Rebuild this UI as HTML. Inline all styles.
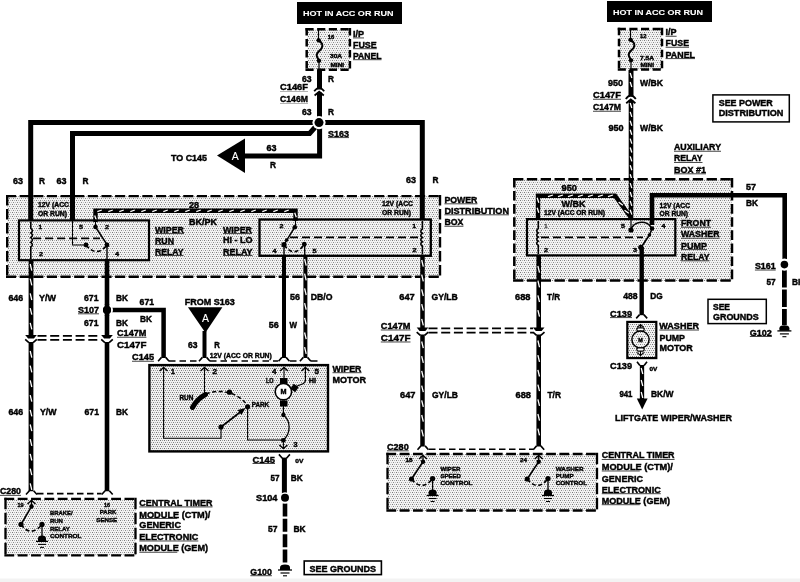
<!DOCTYPE html>
<html><head><meta charset="utf-8"><style>
html,body{margin:0;padding:0;background:#fff;}
svg{display:block;will-change:transform;}
text{font-family:"Liberation Sans", sans-serif;}
</style></head><body>
<svg width="800" height="582" viewBox="0 0 800 582">
<defs>
<pattern id="stip" width="4" height="4" patternUnits="userSpaceOnUse">
<rect width="4" height="4" fill="#f1f1f1"/>
<rect x="0" y="0" width="1" height="1" fill="#707070"/>
<rect x="2" y="0" width="1" height="1" fill="#9c9c9c"/>
<rect x="1" y="2" width="1" height="1" fill="#808080"/>
<rect x="3" y="2" width="1" height="1" fill="#a8a8a8"/>
</pattern>
<pattern id="stipL" width="4" height="4" patternUnits="userSpaceOnUse">
<rect width="4" height="4" fill="#f3f3f3"/>
<rect x="0" y="0" width="1" height="1" fill="#7a7a7a"/>
<rect x="2" y="0" width="1" height="1" fill="#b0b0b0"/>
<rect x="1" y="2" width="1" height="1" fill="#8c8c8c"/>
<rect x="3" y="2" width="1" height="1" fill="#c0c0c0"/>
</pattern>
</defs>
<rect width="800" height="582" fill="#fff"/>
<rect x="7" y="196" width="433" height="81" fill="url(#stipL)"/>
<rect x="307" y="29" width="43" height="41" fill="url(#stipL)"/>
<rect x="619" y="29" width="43" height="41" fill="url(#stipL)"/>
<rect x="514" y="179" width="218" height="102" fill="url(#stipL)"/>
<rect x="150" y="366" width="177" height="85" fill="url(#stip)"/>
<rect x="5" y="499" width="131" height="57" fill="url(#stipL)"/>
<rect x="387" y="454" width="210" height="57" fill="url(#stipL)"/>
<rect x="627" y="322" width="30" height="37" fill="url(#stip)"/>
<rect x="297" y="2" width="105" height="22" fill="#000"/>
<text x="303" y="16.27" font-size="7.6" font-weight="bold" fill="#fff" stroke="#fff" stroke-width="0.1" text-anchor="start" textLength="90.5" lengthAdjust="spacingAndGlyphs">HOT IN ACC OR RUN</text>
<line x1="306.7" y1="29.2" x2="349.9" y2="29.2" stroke="#000" stroke-width="2.5" stroke-linecap="square" stroke-dasharray="5.675 6.000"/>
<line x1="349.9" y1="29.2" x2="349.9" y2="69.8" stroke="#000" stroke-width="2.5" stroke-linecap="square" stroke-dasharray="5.025 6.000"/>
<line x1="306.7" y1="69.8" x2="349.9" y2="69.8" stroke="#000" stroke-width="2.5" stroke-linecap="square" stroke-dasharray="5.675 6.000"/>
<line x1="306.7" y1="29.2" x2="306.7" y2="69.8" stroke="#000" stroke-width="2.5" stroke-linecap="square" stroke-dasharray="5.025 6.000"/>
<path d="M318.5,29 L318.5,39.5" fill="none" stroke="#000" stroke-width="1.2" stroke-linecap="butt" stroke-linejoin="miter"/>
<ellipse cx="318.7" cy="40.3" rx="2.3" ry="2.1" fill="#000"/>
<path d="M318.7,41 C322,42 323.5,45 321.5,48.5 C319.5,51 316,53 316.8,56 C317.3,58.5 319,59.5 319,60.5" fill="none" stroke="#000" stroke-width="2.0" stroke-linecap="butt" stroke-linejoin="miter"/>
<ellipse cx="319" cy="60.8" rx="2.3" ry="2.1" fill="#000"/>
<path d="M319,61 L319,70" fill="none" stroke="#000" stroke-width="1.2" stroke-linecap="butt" stroke-linejoin="miter"/>
<text x="327.7" y="38.50" font-size="5.5" font-weight="bold" fill="#000" stroke="#000" stroke-width="0.38" text-anchor="start" textLength="6.5" lengthAdjust="spacingAndGlyphs">16</text>
<text x="330" y="57.70" font-size="5.5" font-weight="bold" fill="#000" stroke="#000" stroke-width="0.38" text-anchor="start" textLength="12" lengthAdjust="spacingAndGlyphs">30A</text>
<text x="330.4" y="66.60" font-size="5.5" font-weight="bold" fill="#000" stroke="#000" stroke-width="0.38" text-anchor="start" textLength="13.8" lengthAdjust="spacingAndGlyphs">MINI</text>
<text x="353" y="36.98" font-size="9" font-weight="bold" fill="#000" stroke="#000" stroke-width="0.42" text-anchor="start" textLength="11" lengthAdjust="spacingAndGlyphs">I/P</text>
<rect x="353" y="37.48" width="11" height="0.9" fill="#333"/>
<text x="353" y="47.78" font-size="9" font-weight="bold" fill="#000" stroke="#000" stroke-width="0.42" text-anchor="start" textLength="23.7" lengthAdjust="spacingAndGlyphs">FUSE</text>
<rect x="353" y="48.28" width="23.7" height="0.9" fill="#333"/>
<text x="353" y="58.78" font-size="9" font-weight="bold" fill="#000" stroke="#000" stroke-width="0.42" text-anchor="start" textLength="28.5" lengthAdjust="spacingAndGlyphs">PANEL</text>
<rect x="353" y="59.28" width="28.5" height="0.9" fill="#333"/>
<polyline points="319.5,70 319.5,89.5" fill="none" stroke="#000" stroke-width="5" stroke-linejoin="miter" stroke-linecap="butt"/>
<polyline points="319.5,92.5 319.5,120" fill="none" stroke="#000" stroke-width="5" stroke-linejoin="miter" stroke-linecap="butt"/>
<path d="M314.2,91.3 Q319.2,84.3 324.2,91.3" fill="none" stroke="#000" stroke-width="1.8" stroke-linecap="butt" stroke-linejoin="miter"/>
<path d="M314.59999999999997,95.5 L319.2,91.7 L323.8,95.5" fill="none" stroke="#000" stroke-width="1.8" stroke-linecap="butt" stroke-linejoin="miter"/>
<text x="302" y="81.78" font-size="9" font-weight="bold" fill="#000" stroke="#000" stroke-width="0.42" text-anchor="start" textLength="9.6" lengthAdjust="spacingAndGlyphs">63</text>
<text x="328" y="81.78" font-size="9" font-weight="bold" fill="#000" stroke="#000" stroke-width="0.42" text-anchor="start" textLength="6" lengthAdjust="spacingAndGlyphs">R</text>
<text x="280" y="90.48" font-size="9" font-weight="bold" fill="#000" stroke="#000" stroke-width="0.42" text-anchor="start" textLength="28" lengthAdjust="spacingAndGlyphs">C146F</text>
<rect x="280" y="90.98" width="28" height="0.9" fill="#aaa"/>
<text x="280" y="102.48" font-size="9" font-weight="bold" fill="#000" stroke="#000" stroke-width="0.42" text-anchor="start" textLength="28" lengthAdjust="spacingAndGlyphs">C146M</text>
<rect x="280" y="102.98" width="28" height="0.9" fill="#aaa"/>
<text x="302" y="114.98" font-size="9" font-weight="bold" fill="#000" stroke="#000" stroke-width="0.42" text-anchor="start" textLength="9.6" lengthAdjust="spacingAndGlyphs">63</text>
<text x="328" y="114.98" font-size="9" font-weight="bold" fill="#000" stroke="#000" stroke-width="0.42" text-anchor="start" textLength="6" lengthAdjust="spacingAndGlyphs">R</text>
<polyline points="30.7,221 30.7,122.6 422.3,122.6 422.3,219.5" fill="none" stroke="#000" stroke-width="5" stroke-linejoin="miter" stroke-linecap="butt"/>
<polyline points="318,124 309.6,133.5 72.5,133.5 72.5,221" fill="none" stroke="#000" stroke-width="5" stroke-linejoin="miter" stroke-linecap="butt"/>
<polyline points="319.6,122.6 319.6,156 244,156" fill="none" stroke="#000" stroke-width="5" stroke-linejoin="miter" stroke-linecap="butt"/>
<circle cx="319" cy="122.6" r="6.6" fill="#fff"/>
<circle cx="319" cy="122.6" r="4.5" fill="#000"/>
<text x="328" y="136.68" font-size="9" font-weight="bold" fill="#000" stroke="#000" stroke-width="0.42" text-anchor="start" textLength="21" lengthAdjust="spacingAndGlyphs">S163</text>
<rect x="328" y="137.18" width="21" height="0.9" fill="#333"/>
<polygon points="217,155.6 245,138.4 245,173" fill="#000"/>
<text x="235.3" y="160.13" font-size="10.5" font-weight="normal" fill="#fff" stroke="#fff" stroke-width="0.1" text-anchor="middle" textLength="7" lengthAdjust="spacingAndGlyphs">A</text>
<text x="171" y="160.68" font-size="9" font-weight="bold" fill="#000" stroke="#000" stroke-width="0.42" text-anchor="start" textLength="36" lengthAdjust="spacingAndGlyphs">TO C145</text>
<text x="266.4" y="151.28" font-size="9" font-weight="bold" fill="#000" stroke="#000" stroke-width="0.42" text-anchor="start" textLength="10" lengthAdjust="spacingAndGlyphs">63</text>
<text x="270" y="168.28" font-size="9" font-weight="bold" fill="#000" stroke="#000" stroke-width="0.42" text-anchor="start" textLength="6" lengthAdjust="spacingAndGlyphs">R</text>
<text x="13" y="183.68" font-size="9" font-weight="bold" fill="#000" stroke="#000" stroke-width="0.42" text-anchor="start" textLength="10" lengthAdjust="spacingAndGlyphs">63</text>
<text x="39" y="183.68" font-size="9" font-weight="bold" fill="#000" stroke="#000" stroke-width="0.42" text-anchor="start" textLength="6" lengthAdjust="spacingAndGlyphs">R</text>
<text x="56.6" y="183.68" font-size="9" font-weight="bold" fill="#000" stroke="#000" stroke-width="0.42" text-anchor="start" textLength="10" lengthAdjust="spacingAndGlyphs">63</text>
<text x="82.6" y="183.68" font-size="9" font-weight="bold" fill="#000" stroke="#000" stroke-width="0.42" text-anchor="start" textLength="6" lengthAdjust="spacingAndGlyphs">R</text>
<text x="406" y="183.28" font-size="9" font-weight="bold" fill="#000" stroke="#000" stroke-width="0.42" text-anchor="start" textLength="10" lengthAdjust="spacingAndGlyphs">63</text>
<text x="432.6" y="183.28" font-size="9" font-weight="bold" fill="#000" stroke="#000" stroke-width="0.42" text-anchor="start" textLength="6" lengthAdjust="spacingAndGlyphs">R</text>
<line x1="7.2" y1="196.1" x2="440.0" y2="196.1" stroke="#000" stroke-width="2.4" stroke-linecap="square" stroke-dasharray="7.734 5.900"/>
<line x1="440.0" y1="196.1" x2="440.0" y2="276.8" stroke="#000" stroke-width="2.4" stroke-linecap="square" stroke-dasharray="8.133 5.900"/>
<line x1="7.2" y1="276.8" x2="440.0" y2="276.8" stroke="#000" stroke-width="2.4" stroke-linecap="square" stroke-dasharray="7.734 5.900"/>
<line x1="7.2" y1="196.1" x2="7.2" y2="276.8" stroke="#000" stroke-width="2.4" stroke-linecap="square" stroke-dasharray="8.133 5.900"/>
<text x="444.4" y="202.88" font-size="9" font-weight="bold" fill="#000" stroke="#000" stroke-width="0.42" text-anchor="start" textLength="33" lengthAdjust="spacingAndGlyphs">POWER</text>
<rect x="444.4" y="203.38" width="33" height="0.9" fill="#333"/>
<text x="444.4" y="213.88" font-size="9" font-weight="bold" fill="#000" stroke="#000" stroke-width="0.42" text-anchor="start" textLength="64.6" lengthAdjust="spacingAndGlyphs">DISTRIBUTION</text>
<rect x="444.4" y="214.38" width="64.6" height="0.9" fill="#333"/>
<text x="444.4" y="225.28" font-size="9" font-weight="bold" fill="#000" stroke="#000" stroke-width="0.42" text-anchor="start" textLength="19" lengthAdjust="spacingAndGlyphs">BOX</text>
<rect x="444.4" y="225.78" width="19" height="0.9" fill="#333"/>
<text x="38" y="206.88" font-size="6.8" font-weight="bold" fill="#000" stroke="#000" stroke-width="0.4" text-anchor="start" textLength="31" lengthAdjust="spacingAndGlyphs">12V (ACC</text>
<text x="38" y="216.08" font-size="6.8" font-weight="bold" fill="#000" stroke="#000" stroke-width="0.4" text-anchor="start" textLength="29" lengthAdjust="spacingAndGlyphs">OR RUN)</text>
<text x="382" y="206.08" font-size="6.8" font-weight="bold" fill="#000" stroke="#000" stroke-width="0.4" text-anchor="start" textLength="31" lengthAdjust="spacingAndGlyphs">12V (ACC</text>
<text x="382" y="215.48" font-size="6.8" font-weight="bold" fill="#000" stroke="#000" stroke-width="0.4" text-anchor="start" textLength="29" lengthAdjust="spacingAndGlyphs">OR RUN)</text>
<text x="189" y="207.68" font-size="9" font-weight="bold" fill="#000" stroke="#000" stroke-width="0.42" text-anchor="start" textLength="10" lengthAdjust="spacingAndGlyphs">28</text>
<text x="189" y="224.88" font-size="9" font-weight="bold" fill="#000" stroke="#000" stroke-width="0.42" text-anchor="start" textLength="28" lengthAdjust="spacingAndGlyphs">BK/PK</text>
<polyline points="95.5,222 95.5,210.8 295.5,210.8 295.5,221" fill="none" stroke="#000" stroke-width="4.4" stroke-linejoin="miter" stroke-linecap="butt"/>
<path d="M96.30,220.00 L94.70,215.50 M97.30,211.60 L101.80,210.00 M108.30,211.60 L112.80,210.00 M119.30,211.60 L123.80,210.00 M130.30,211.60 L134.80,210.00 M141.30,211.60 L145.80,210.00 M152.30,211.60 L156.80,210.00 M163.30,211.60 L167.80,210.00 M174.30,211.60 L178.80,210.00 M185.30,211.60 L189.80,210.00 M196.30,211.60 L200.80,210.00 M207.30,211.60 L211.80,210.00 M218.30,211.60 L222.80,210.00 M229.30,211.60 L233.80,210.00 M240.30,211.60 L244.80,210.00 M251.30,211.60 L255.80,210.00 M262.30,211.60 L266.80,210.00 M273.30,211.60 L277.80,210.00 M284.30,211.60 L288.80,210.00 M294.70,212.80 L296.30,217.30" stroke="#fff" stroke-width="1.3" fill="none"/>
<rect x="19" y="220.4" width="130" height="39.8" fill="none" stroke="#000" stroke-width="2.2"/>
<path d="M30.8,221.5 L30.8,228.3 Q34.0,230.63750000000002 30.8,232.97500000000002 Q34.0,235.31250000000003 30.8,237.65000000000003 Q34.0,239.98750000000004 30.8,242.32500000000005 Q34.0,244.66250000000005 30.8,247.00000000000006 L30.8,259" fill="none" stroke="#000" stroke-width="1.6" stroke-linecap="butt" stroke-linejoin="miter"/>
<path d="M33,238.4 L100,238.4" fill="none" stroke="#000" stroke-width="1.7" stroke-linecap="butt" stroke-linejoin="miter" stroke-dasharray="8 4"/>
<path d="M72.5,221 L72.5,245 L86,245" fill="none" stroke="#000" stroke-width="1.1" stroke-linecap="butt" stroke-linejoin="miter"/>
<path d="M95.5,221 L95.5,227" fill="none" stroke="#000" stroke-width="1.1" stroke-linecap="butt" stroke-linejoin="miter"/>
<circle cx="95.5" cy="227" r="2.3" fill="#000"/>
<path d="M95.5,227 L107,244.5" fill="none" stroke="#000" stroke-width="1.5" stroke-linecap="butt" stroke-linejoin="miter"/>
<circle cx="86" cy="245" r="2.4" fill="#000"/>
<circle cx="107" cy="245" r="2.4" fill="#000"/>
<path d="M86,245 Q96.5,258 107,245" fill="none" stroke="#000" stroke-width="1.7" stroke-linecap="butt" stroke-linejoin="miter" stroke-dasharray="4 2.6"/>
<text x="38.5" y="228.59" font-size="6" font-weight="bold" fill="#000" stroke="#000" stroke-width="0.38" text-anchor="start" textLength="3.5" lengthAdjust="spacingAndGlyphs">1</text>
<text x="79" y="228.59" font-size="6" font-weight="bold" fill="#000" stroke="#000" stroke-width="0.38" text-anchor="start" textLength="4" lengthAdjust="spacingAndGlyphs">5</text>
<text x="105" y="228.59" font-size="6" font-weight="bold" fill="#000" stroke="#000" stroke-width="0.38" text-anchor="start" textLength="4" lengthAdjust="spacingAndGlyphs">2</text>
<text x="39" y="256.19" font-size="6" font-weight="bold" fill="#000" stroke="#000" stroke-width="0.38" text-anchor="start" textLength="4" lengthAdjust="spacingAndGlyphs">2</text>
<text x="115" y="256.19" font-size="6" font-weight="bold" fill="#000" stroke="#000" stroke-width="0.38" text-anchor="start" textLength="4" lengthAdjust="spacingAndGlyphs">4</text>
<text x="155" y="232.68" font-size="9" font-weight="bold" fill="#000" stroke="#000" stroke-width="0.42" text-anchor="start" textLength="29" lengthAdjust="spacingAndGlyphs">WIPER</text>
<rect x="155" y="233.18" width="29" height="0.9" fill="#333"/>
<text x="155" y="243.68" font-size="9" font-weight="bold" fill="#000" stroke="#000" stroke-width="0.42" text-anchor="start" textLength="19" lengthAdjust="spacingAndGlyphs">RUN</text>
<rect x="155" y="244.18" width="19" height="0.9" fill="#333"/>
<text x="155" y="254.58" font-size="9" font-weight="bold" fill="#000" stroke="#000" stroke-width="0.42" text-anchor="start" textLength="28.5" lengthAdjust="spacingAndGlyphs">RELAY</text>
<rect x="155" y="255.08" width="28.5" height="0.9" fill="#333"/>
<rect x="259.5" y="219.5" width="171.3" height="36.3" fill="none" stroke="#000" stroke-width="2.3"/>
<path d="M422.4,221 L422.4,229 Q419.2,231.125 422.4,233.25 Q419.2,235.375 422.4,237.5 Q419.2,239.625 422.4,241.75 Q419.2,243.875 422.4,246.0 L422.4,254.5" fill="none" stroke="#000" stroke-width="1.6" stroke-linecap="butt" stroke-linejoin="miter"/>
<path d="M290,237.4 L418,237.4" fill="none" stroke="#000" stroke-width="1.7" stroke-linecap="butt" stroke-linejoin="miter" stroke-dasharray="8 4"/>
<path d="M295.5,221 L295.5,227" fill="none" stroke="#000" stroke-width="1.1" stroke-linecap="butt" stroke-linejoin="miter"/>
<circle cx="294.8" cy="227.2" r="2.3" fill="#000"/>
<path d="M294.8,227.2 L284,244.7" fill="none" stroke="#000" stroke-width="1.5" stroke-linecap="butt" stroke-linejoin="miter"/>
<circle cx="286.7" cy="240" r="1.8" fill="#000"/>
<circle cx="284" cy="244.7" r="2.6" fill="#000"/>
<circle cx="304.3" cy="244.2" r="2.4" fill="#000"/>
<path d="M284,244.7 Q294,259 304.3,244.2" fill="none" stroke="#000" stroke-width="1.7" stroke-linecap="butt" stroke-linejoin="miter" stroke-dasharray="4 2.6"/>
<text x="279.5" y="227.79" font-size="6" font-weight="bold" fill="#000" stroke="#000" stroke-width="0.38" text-anchor="start" textLength="4" lengthAdjust="spacingAndGlyphs">2</text>
<text x="272.5" y="252.79" font-size="6" font-weight="bold" fill="#000" stroke="#000" stroke-width="0.38" text-anchor="start" textLength="4" lengthAdjust="spacingAndGlyphs">4</text>
<text x="312.5" y="252.79" font-size="6" font-weight="bold" fill="#000" stroke="#000" stroke-width="0.38" text-anchor="start" textLength="4" lengthAdjust="spacingAndGlyphs">5</text>
<text x="412.5" y="227.79" font-size="6" font-weight="bold" fill="#000" stroke="#000" stroke-width="0.38" text-anchor="start" textLength="3.5" lengthAdjust="spacingAndGlyphs">1</text>
<text x="412.5" y="252.19" font-size="6" font-weight="bold" fill="#000" stroke="#000" stroke-width="0.38" text-anchor="start" textLength="4" lengthAdjust="spacingAndGlyphs">2</text>
<text x="223" y="232.68" font-size="9" font-weight="bold" fill="#000" stroke="#000" stroke-width="0.42" text-anchor="start" textLength="29" lengthAdjust="spacingAndGlyphs">WIPER</text>
<rect x="223" y="233.18" width="29" height="0.9" fill="#333"/>
<text x="223" y="243.48" font-size="9" font-weight="bold" fill="#000" stroke="#000" stroke-width="0.42" text-anchor="start" textLength="29.5" lengthAdjust="spacingAndGlyphs">HI - LO</text>
<text x="223" y="254.58" font-size="9" font-weight="bold" fill="#000" stroke="#000" stroke-width="0.42" text-anchor="start" textLength="29.5" lengthAdjust="spacingAndGlyphs">RELAY</text>
<rect x="223" y="255.08" width="29.5" height="0.9" fill="#333"/>
<polyline points="31,260 31,336.5" fill="none" stroke="#000" stroke-width="4.8" stroke-linejoin="miter" stroke-linecap="butt"/>
<path d="M30.20,264.00 L31.80,270.60 M30.20,278.70 L31.80,285.30 M30.20,293.40 L31.80,300.00 M30.20,308.10 L31.80,314.70 M30.20,322.80 L31.80,329.40" stroke="#fff" stroke-width="1.3" fill="none"/>
<polyline points="31,342 31,491.3" fill="none" stroke="#000" stroke-width="4.8" stroke-linejoin="miter" stroke-linecap="butt"/>
<path d="M30.20,351.00 L31.80,357.60 M30.20,365.70 L31.80,372.30 M30.20,380.40 L31.80,387.00 M30.20,395.10 L31.80,401.70 M30.20,409.80 L31.80,416.40 M30.20,424.50 L31.80,431.10 M30.20,439.20 L31.80,445.80 M30.20,453.90 L31.80,460.50 M30.20,468.60 L31.80,475.20 M30.20,483.30 L31.80,489.90" stroke="#fff" stroke-width="1.3" fill="none"/>
<polygon points="25.2,335.0 36.8,335.0 33.9,338.5 28.1,338.5" fill="#000"/>
<path d="M28.9,342.6 L25.2,339.4 M33.1,342.6 L36.8,339.4" fill="none" stroke="#000" stroke-width="1.7" stroke-linecap="butt" stroke-linejoin="miter"/>
<path d="M107,245 L107,259" fill="none" stroke="#000" stroke-width="1.4" stroke-linecap="butt" stroke-linejoin="miter"/>
<polyline points="107,259 107,336.5" fill="none" stroke="#000" stroke-width="4.6" stroke-linejoin="miter" stroke-linecap="butt"/>
<polyline points="107,342 107,491.3" fill="none" stroke="#000" stroke-width="4.6" stroke-linejoin="miter" stroke-linecap="butt"/>
<polygon points="101.2,335.0 112.8,335.0 109.9,338.5 104.1,338.5" fill="#000"/>
<path d="M104.9,342.6 L101.2,339.4 M109.1,342.6 L112.8,339.4" fill="none" stroke="#000" stroke-width="1.7" stroke-linecap="butt" stroke-linejoin="miter"/>
<path d="M37.5,335.9 L101,335.9" fill="none" stroke="#000" stroke-width="1.8" stroke-linecap="butt" stroke-linejoin="miter" stroke-dasharray="9 3.7"/>
<path d="M37.5,339.8 L101,339.8" fill="none" stroke="#000" stroke-width="1.8" stroke-linecap="butt" stroke-linejoin="miter" stroke-dasharray="9 3.7"/>
<polyline points="107,310 163.6,310 163.6,358" fill="none" stroke="#000" stroke-width="4.5" stroke-linejoin="miter" stroke-linecap="butt"/>
<circle cx="107" cy="310" r="6" fill="#fff"/>
<circle cx="107" cy="310" r="4" fill="#000"/>
<path d="M107,304 L107,316" fill="none" stroke="#000" stroke-width="4.6" stroke-linecap="butt" stroke-linejoin="miter"/>
<circle cx="107" cy="310" r="4" fill="#000"/>
<text x="8.4" y="300.68" font-size="9" font-weight="bold" fill="#000" stroke="#000" stroke-width="0.42" text-anchor="start" textLength="14.8" lengthAdjust="spacingAndGlyphs">646</text>
<text x="39" y="300.68" font-size="9" font-weight="bold" fill="#000" stroke="#000" stroke-width="0.42" text-anchor="start" textLength="17" lengthAdjust="spacingAndGlyphs">Y/W</text>
<text x="84" y="301.28" font-size="9" font-weight="bold" fill="#000" stroke="#000" stroke-width="0.42" text-anchor="start" textLength="14.5" lengthAdjust="spacingAndGlyphs">671</text>
<text x="116" y="301.28" font-size="9" font-weight="bold" fill="#000" stroke="#000" stroke-width="0.42" text-anchor="start" textLength="12" lengthAdjust="spacingAndGlyphs">BK</text>
<text x="78" y="312.88" font-size="9" font-weight="bold" fill="#000" stroke="#000" stroke-width="0.42" text-anchor="start" textLength="21" lengthAdjust="spacingAndGlyphs">S107</text>
<rect x="78" y="313.38" width="21" height="0.9" fill="#333"/>
<text x="84" y="325.68" font-size="9" font-weight="bold" fill="#000" stroke="#000" stroke-width="0.42" text-anchor="start" textLength="14.5" lengthAdjust="spacingAndGlyphs">671</text>
<text x="116" y="325.68" font-size="9" font-weight="bold" fill="#000" stroke="#000" stroke-width="0.42" text-anchor="start" textLength="12" lengthAdjust="spacingAndGlyphs">BK</text>
<text x="139.6" y="305.28" font-size="9" font-weight="bold" fill="#000" stroke="#000" stroke-width="0.42" text-anchor="start" textLength="14.5" lengthAdjust="spacingAndGlyphs">671</text>
<text x="140" y="322.28" font-size="9" font-weight="bold" fill="#000" stroke="#000" stroke-width="0.42" text-anchor="start" textLength="12" lengthAdjust="spacingAndGlyphs">BK</text>
<text x="117" y="336.28" font-size="9" font-weight="bold" fill="#000" stroke="#000" stroke-width="0.42" text-anchor="start" textLength="29.4" lengthAdjust="spacingAndGlyphs">C147M</text>
<rect x="117" y="336.78" width="29.4" height="0.9" fill="#333"/>
<text x="117" y="348.28" font-size="9" font-weight="bold" fill="#000" stroke="#000" stroke-width="0.42" text-anchor="start" textLength="29.4" lengthAdjust="spacingAndGlyphs">C147F</text>
<text x="132" y="360.28" font-size="9" font-weight="bold" fill="#000" stroke="#000" stroke-width="0.42" text-anchor="start" textLength="22" lengthAdjust="spacingAndGlyphs">C145</text>
<rect x="132" y="360.78" width="22" height="0.9" fill="#333"/>
<text x="8.4" y="415.28" font-size="9" font-weight="bold" fill="#000" stroke="#000" stroke-width="0.42" text-anchor="start" textLength="14.8" lengthAdjust="spacingAndGlyphs">646</text>
<text x="40" y="415.28" font-size="9" font-weight="bold" fill="#000" stroke="#000" stroke-width="0.42" text-anchor="start" textLength="16.5" lengthAdjust="spacingAndGlyphs">Y/W</text>
<text x="84.5" y="415.28" font-size="9" font-weight="bold" fill="#000" stroke="#000" stroke-width="0.42" text-anchor="start" textLength="14.5" lengthAdjust="spacingAndGlyphs">671</text>
<text x="116" y="415.28" font-size="9" font-weight="bold" fill="#000" stroke="#000" stroke-width="0.42" text-anchor="start" textLength="12" lengthAdjust="spacingAndGlyphs">BK</text>
<path d="M284,245 L284,255" fill="none" stroke="#000" stroke-width="1.4" stroke-linecap="butt" stroke-linejoin="miter"/>
<polyline points="284,255 284,358" fill="none" stroke="#000" stroke-width="4" stroke-linejoin="miter" stroke-linecap="butt"/>
<path d="M304.6,244 L304.8,255" fill="none" stroke="#000" stroke-width="1.4" stroke-linecap="butt" stroke-linejoin="miter"/>
<polyline points="305.4,255 305.4,358" fill="none" stroke="#000" stroke-width="4" stroke-linejoin="miter" stroke-linecap="butt"/>
<path d="M304.60,259.00 L306.20,265.60 M304.60,273.70 L306.20,280.30 M304.60,288.40 L306.20,295.00 M304.60,303.10 L306.20,309.70 M304.60,317.80 L306.20,324.40 M304.60,332.50 L306.20,339.10 M304.60,347.20 L306.20,353.80" stroke="#fff" stroke-width="1.3" fill="none"/>
<text x="290" y="300.28" font-size="9" font-weight="bold" fill="#000" stroke="#000" stroke-width="0.42" text-anchor="start" textLength="10" lengthAdjust="spacingAndGlyphs">56</text>
<text x="310.75" y="300.28" font-size="9" font-weight="bold" fill="#000" stroke="#000" stroke-width="0.42" text-anchor="start" textLength="21.7" lengthAdjust="spacingAndGlyphs">DB/O</text>
<text x="268.75" y="328.28" font-size="9" font-weight="bold" fill="#000" stroke="#000" stroke-width="0.42" text-anchor="start" textLength="10" lengthAdjust="spacingAndGlyphs">56</text>
<text x="289.5" y="328.28" font-size="9" font-weight="bold" fill="#000" stroke="#000" stroke-width="0.42" text-anchor="start" textLength="7.5" lengthAdjust="spacingAndGlyphs">W</text>
<polygon points="187.9,307.3 222.4,307.3 205.4,332.8" fill="#000"/>
<text x="205.4" y="322.43" font-size="10.5" font-weight="normal" fill="#fff" stroke="#fff" stroke-width="0.1" text-anchor="middle" textLength="7" lengthAdjust="spacingAndGlyphs">A</text>
<polyline points="204.5,331 204.5,358" fill="none" stroke="#000" stroke-width="4" stroke-linejoin="miter" stroke-linecap="butt"/>
<text x="184.8" y="304.88" font-size="9" font-weight="bold" fill="#000" stroke="#000" stroke-width="0.42" text-anchor="start" textLength="50" lengthAdjust="spacingAndGlyphs">FROM S163</text>
<text x="188" y="347.88" font-size="9" font-weight="bold" fill="#000" stroke="#000" stroke-width="0.42" text-anchor="start" textLength="9.5" lengthAdjust="spacingAndGlyphs">63</text>
<text x="214.2" y="347.88" font-size="9" font-weight="bold" fill="#000" stroke="#000" stroke-width="0.42" text-anchor="start" textLength="5.6" lengthAdjust="spacingAndGlyphs">R</text>
<polyline points="422.5,256 422.5,329" fill="none" stroke="#000" stroke-width="4.5" stroke-linejoin="miter" stroke-linecap="butt"/>
<path d="M421.70,260.00 L423.30,266.60 M421.70,274.70 L423.30,281.30 M421.70,289.40 L423.30,296.00 M421.70,304.10 L423.30,310.70 M421.70,318.80 L423.30,325.40" stroke="#fff" stroke-width="1.3" fill="none"/>
<polyline points="422.5,334.5 422.5,446.5" fill="none" stroke="#000" stroke-width="4.5" stroke-linejoin="miter" stroke-linecap="butt"/>
<path d="M421.70,341.50 L423.30,348.10 M421.70,356.20 L423.30,362.80 M421.70,370.90 L423.30,377.50 M421.70,385.60 L423.30,392.20 M421.70,400.30 L423.30,406.90 M421.70,415.00 L423.30,421.60 M421.70,429.70 L423.30,436.30" stroke="#fff" stroke-width="1.3" fill="none"/>
<polyline points="538.7,255 538.7,329" fill="none" stroke="#000" stroke-width="4.6" stroke-linejoin="miter" stroke-linecap="butt"/>
<path d="M537.90,266.00 L539.50,272.60 M537.90,280.70 L539.50,287.30 M537.90,295.40 L539.50,302.00 M537.90,310.10 L539.50,316.70" stroke="#fff" stroke-width="1.3" fill="none"/>
<polyline points="538.7,334.5 538.7,446.5" fill="none" stroke="#000" stroke-width="4.6" stroke-linejoin="miter" stroke-linecap="butt"/>
<path d="M537.90,340.50 L539.50,347.10 M537.90,355.20 L539.50,361.80 M537.90,369.90 L539.50,376.50 M537.90,384.60 L539.50,391.20 M537.90,399.30 L539.50,405.90 M537.90,414.00 L539.50,420.60 M537.90,428.70 L539.50,435.30" stroke="#fff" stroke-width="1.3" fill="none"/>
<polygon points="416.7,327.5 428.3,327.5 425.4,331.0 419.6,331.0" fill="#000"/>
<path d="M420.4,335.40000000000003 L416.7,332.2 M424.6,335.40000000000003 L428.3,332.2" fill="none" stroke="#000" stroke-width="1.7" stroke-linecap="butt" stroke-linejoin="miter"/>
<polygon points="532.9000000000001,327.5 544.5,327.5 541.6,331.0 535.8000000000001,331.0" fill="#000"/>
<path d="M536.6,335.40000000000003 L532.9000000000001,332.2 M540.8000000000001,335.40000000000003 L544.5,332.2" fill="none" stroke="#000" stroke-width="1.7" stroke-linecap="butt" stroke-linejoin="miter"/>
<path d="M428.5,328.4 L533,328.4" fill="none" stroke="#000" stroke-width="1.8" stroke-linecap="butt" stroke-linejoin="miter" stroke-dasharray="9 3.7"/>
<path d="M428.5,332.7 L533,332.7" fill="none" stroke="#000" stroke-width="1.8" stroke-linecap="butt" stroke-linejoin="miter" stroke-dasharray="9 3.7"/>
<text x="399.3" y="300.08" font-size="9" font-weight="bold" fill="#000" stroke="#000" stroke-width="0.42" text-anchor="start" textLength="15.5" lengthAdjust="spacingAndGlyphs">647</text>
<text x="431.5" y="300.08" font-size="9" font-weight="bold" fill="#000" stroke="#000" stroke-width="0.42" text-anchor="start" textLength="26.3" lengthAdjust="spacingAndGlyphs">GY/LB</text>
<text x="515" y="300.28" font-size="9" font-weight="bold" fill="#000" stroke="#000" stroke-width="0.42" text-anchor="start" textLength="15.5" lengthAdjust="spacingAndGlyphs">688</text>
<text x="547" y="300.28" font-size="9" font-weight="bold" fill="#000" stroke="#000" stroke-width="0.42" text-anchor="start" textLength="13" lengthAdjust="spacingAndGlyphs">T/R</text>
<text x="380.8" y="329.03" font-size="9" font-weight="bold" fill="#000" stroke="#000" stroke-width="0.42" text-anchor="start" textLength="29.7" lengthAdjust="spacingAndGlyphs">C147M</text>
<rect x="380.8" y="329.53" width="29.7" height="0.9" fill="#333"/>
<text x="380.8" y="341.03" font-size="9" font-weight="bold" fill="#000" stroke="#000" stroke-width="0.42" text-anchor="start" textLength="29.7" lengthAdjust="spacingAndGlyphs">C147F</text>
<rect x="380.8" y="341.53" width="29.7" height="0.9" fill="#333"/>
<text x="400" y="397.53" font-size="9" font-weight="bold" fill="#000" stroke="#000" stroke-width="0.42" text-anchor="start" textLength="15.5" lengthAdjust="spacingAndGlyphs">647</text>
<text x="432" y="397.53" font-size="9" font-weight="bold" fill="#000" stroke="#000" stroke-width="0.42" text-anchor="start" textLength="26" lengthAdjust="spacingAndGlyphs">GY/LB</text>
<text x="515.5" y="397.53" font-size="9" font-weight="bold" fill="#000" stroke="#000" stroke-width="0.42" text-anchor="start" textLength="15.5" lengthAdjust="spacingAndGlyphs">688</text>
<text x="547.5" y="397.53" font-size="9" font-weight="bold" fill="#000" stroke="#000" stroke-width="0.42" text-anchor="start" textLength="13.5" lengthAdjust="spacingAndGlyphs">T/R</text>
<rect x="149.4" y="365.1" width="178.6" height="86.3" fill="none" stroke="#000" stroke-width="2.4"/>
<path d="M161.5,357.4 L158.1,361.2 M165.7,357.4 L169.1,361.2" fill="none" stroke="#000" stroke-width="1.6" stroke-linecap="butt" stroke-linejoin="miter"/>
<path d="M202.4,357.4 L199.0,361.2 M206.6,357.4 L210.0,361.2" fill="none" stroke="#000" stroke-width="1.6" stroke-linecap="butt" stroke-linejoin="miter"/>
<path d="M281.9,357.4 L278.5,361.2 M286.1,357.4 L289.5,361.2" fill="none" stroke="#000" stroke-width="1.6" stroke-linecap="butt" stroke-linejoin="miter"/>
<path d="M303.29999999999995,357.4 L299.9,361.2 M307.5,357.4 L310.9,361.2" fill="none" stroke="#000" stroke-width="1.6" stroke-linecap="butt" stroke-linejoin="miter"/>
<path d="M169,361 L199,361 M210,361 L278,361 M290,361 L300,361 M311,361 L318,361" fill="none" stroke="#000" stroke-width="1.6" stroke-linecap="butt" stroke-linejoin="miter" stroke-dasharray="6.5 4"/>
<text x="209.75" y="358.25" font-size="7" font-weight="bold" fill="#000" stroke="#000" stroke-width="0.4" text-anchor="start" textLength="62" lengthAdjust="spacingAndGlyphs">12V (ACC OR RUN)</text>
<path d="M159.6,371.1 L163.6,367.5 L167.6,371.1" fill="none" stroke="#000" stroke-width="1.4" stroke-linecap="butt" stroke-linejoin="miter"/>
<path d="M200.5,371.1 L204.5,367.5 L208.5,371.1" fill="none" stroke="#000" stroke-width="1.4" stroke-linecap="butt" stroke-linejoin="miter"/>
<path d="M280,371.1 L284,367.5 L288,371.1" fill="none" stroke="#000" stroke-width="1.4" stroke-linecap="butt" stroke-linejoin="miter"/>
<path d="M301.4,371.1 L305.4,367.5 L309.4,371.1" fill="none" stroke="#000" stroke-width="1.4" stroke-linecap="butt" stroke-linejoin="miter"/>
<text x="171" y="374.37" font-size="6.5" font-weight="bold" fill="#000" stroke="#000" stroke-width="0.4" text-anchor="start" textLength="3.8" lengthAdjust="spacingAndGlyphs">1</text>
<text x="212.5" y="374.37" font-size="6.5" font-weight="bold" fill="#000" stroke="#000" stroke-width="0.4" text-anchor="start" textLength="4.5" lengthAdjust="spacingAndGlyphs">2</text>
<text x="272" y="373.87" font-size="6.5" font-weight="bold" fill="#000" stroke="#000" stroke-width="0.4" text-anchor="start" textLength="4.5" lengthAdjust="spacingAndGlyphs">4</text>
<text x="314.5" y="373.87" font-size="6.5" font-weight="bold" fill="#000" stroke="#000" stroke-width="0.4" text-anchor="start" textLength="4.5" lengthAdjust="spacingAndGlyphs">5</text>
<path d="M163.6,367.5 L163.6,438.3 L221,438.3 L221,427" fill="none" stroke="#000" stroke-width="1.1" stroke-linecap="butt" stroke-linejoin="miter"/>
<path d="M204.5,367.5 L204.5,395" fill="none" stroke="#000" stroke-width="1.1" stroke-linecap="butt" stroke-linejoin="miter"/>
<path d="M192.5,407.5 Q197,399 205.5,394.5" fill="none" stroke="#000" stroke-width="5" stroke-linecap="round" stroke-linejoin="miter"/>
<text x="179.5" y="400.07" font-size="6.5" font-weight="bold" fill="#000" stroke="#000" stroke-width="0.4" text-anchor="start" textLength="13.8" lengthAdjust="spacingAndGlyphs">RUN</text>
<path d="M206,394 A35.5,35.5 0 0 1 248,406" fill="none" stroke="#000" stroke-width="1.5" stroke-linecap="butt" stroke-linejoin="miter" stroke-dasharray="4 2.5"/>
<circle cx="229.5" cy="392.2" r="2.6" fill="#000"/>
<circle cx="247.6" cy="406.8" r="2.6" fill="#000"/>
<circle cx="221" cy="427" r="2.6" fill="#000"/>
<path d="M221,427 L241,411.5" fill="none" stroke="#000" stroke-width="1.6" stroke-linecap="butt" stroke-linejoin="miter"/>
<polygon points="245.5,408 237.5,410 241.5,415" fill="#000"/>
<path d="M247.6,406.8 L247.6,440 L283.3,440" fill="none" stroke="#000" stroke-width="1.1" stroke-linecap="butt" stroke-linejoin="miter"/>
<text x="251.75" y="406.87" font-size="6.5" font-weight="bold" fill="#000" stroke="#000" stroke-width="0.4" text-anchor="start" textLength="17.3" lengthAdjust="spacingAndGlyphs">PARK</text>
<path d="M284,367.5 L284,378" fill="none" stroke="#000" stroke-width="1.1" stroke-linecap="butt" stroke-linejoin="miter"/>
<rect x="280" y="378" width="7.5" height="6" fill="#000"/>
<circle cx="283.4" cy="391.7" r="8.2" fill="#fff" stroke="#000" stroke-width="1.6"/>
<text x="283.4" y="394.17" font-size="6.5" font-weight="bold" fill="#000" stroke="#000" stroke-width="0.4" text-anchor="middle" textLength="6" lengthAdjust="spacingAndGlyphs">M</text>
<rect x="280" y="400.5" width="7.5" height="6" fill="#000"/>
<rect x="291.5" y="385" width="6" height="6" fill="#000" transform="rotate(35 294.5 388)"/>
<path d="M296,386.5 L303.5,383.5 L305.4,381 L305.4,367.5" fill="none" stroke="#000" stroke-width="1.2" stroke-linecap="butt" stroke-linejoin="miter"/>
<path d="M283.4,406 L283.4,415" fill="none" stroke="#000" stroke-width="1.2" stroke-linecap="butt" stroke-linejoin="miter"/>
<circle cx="283.4" cy="415" r="2.2" fill="#000"/>
<path d="M283.4,415 C291,421 291,433 283.4,440" fill="none" stroke="#000" stroke-width="1.3" stroke-linecap="butt" stroke-linejoin="miter"/>
<circle cx="283.4" cy="440.3" r="2.4" fill="#000"/>
<path d="M283.4,440 L283.4,448" fill="none" stroke="#000" stroke-width="1.1" stroke-linecap="butt" stroke-linejoin="miter"/>
<path d="M279.4,444.9 L283.4,448.5 L287.4,444.9" fill="none" stroke="#000" stroke-width="1.4" stroke-linecap="butt" stroke-linejoin="miter"/>
<text x="293.5" y="447.37" font-size="6.5" font-weight="bold" fill="#000" stroke="#000" stroke-width="0.4" text-anchor="start" textLength="4" lengthAdjust="spacingAndGlyphs">3</text>
<text x="266" y="382.87" font-size="6.5" font-weight="bold" fill="#000" stroke="#000" stroke-width="0.4" text-anchor="start" textLength="7.5" lengthAdjust="spacingAndGlyphs">LO</text>
<text x="308.75" y="382.87" font-size="6.5" font-weight="bold" fill="#000" stroke="#000" stroke-width="0.4" text-anchor="start" textLength="7.3" lengthAdjust="spacingAndGlyphs">HI</text>
<text x="332.5" y="371.78" font-size="9" font-weight="bold" fill="#000" stroke="#000" stroke-width="0.42" text-anchor="start" textLength="29" lengthAdjust="spacingAndGlyphs">WIPER</text>
<rect x="332.5" y="372.28" width="29" height="0.9" fill="#333"/>
<text x="332.5" y="382.78" font-size="9" font-weight="bold" fill="#000" stroke="#000" stroke-width="0.42" text-anchor="start" textLength="33.5" lengthAdjust="spacingAndGlyphs">MOTOR</text>
<path d="M282.29999999999995,458.20000000000005 L278.9,454.40000000000003 M286.5,458.20000000000005 L289.9,454.40000000000003" fill="none" stroke="#000" stroke-width="1.6" stroke-linecap="butt" stroke-linejoin="miter"/>
<polyline points="284.4,457.6 284.4,494" fill="none" stroke="#000" stroke-width="5" stroke-linejoin="miter" stroke-linecap="butt"/>
<polyline points="285,503.4 285,564" fill="none" stroke="#000" stroke-width="4.6" stroke-linejoin="miter" stroke-linecap="butt" stroke-dasharray="13 2.4"/>
<circle cx="285" cy="497.8" r="5.6" fill="#fff"/>
<circle cx="285" cy="497.8" r="4.0" fill="#000"/>
<text x="252.5" y="462.53" font-size="9" font-weight="bold" fill="#000" stroke="#000" stroke-width="0.42" text-anchor="start" textLength="22.5" lengthAdjust="spacingAndGlyphs">C145</text>
<rect x="252.5" y="463.03" width="22.5" height="0.9" fill="#333"/>
<text x="295.25" y="463.39" font-size="6" font-weight="bold" fill="#000" stroke="#000" stroke-width="0.38" text-anchor="start" textLength="8.2" lengthAdjust="spacingAndGlyphs">0V</text>
<text x="270.5" y="481.28" font-size="9" font-weight="bold" fill="#000" stroke="#000" stroke-width="0.42" text-anchor="start" textLength="9" lengthAdjust="spacingAndGlyphs">57</text>
<text x="290.75" y="481.28" font-size="9" font-weight="bold" fill="#000" stroke="#000" stroke-width="0.42" text-anchor="start" textLength="12" lengthAdjust="spacingAndGlyphs">BK</text>
<text x="256" y="501.08" font-size="9" font-weight="bold" fill="#000" stroke="#000" stroke-width="0.42" text-anchor="start" textLength="21.5" lengthAdjust="spacingAndGlyphs">S104</text>
<text x="268" y="531.68" font-size="9" font-weight="bold" fill="#000" stroke="#000" stroke-width="0.42" text-anchor="start" textLength="9.5" lengthAdjust="spacingAndGlyphs">57</text>
<text x="293.4" y="531.68" font-size="9" font-weight="bold" fill="#000" stroke="#000" stroke-width="0.42" text-anchor="start" textLength="12.2" lengthAdjust="spacingAndGlyphs">BK</text>
<path d="M280,569.9 L280,567.4 Q280,564.4 285,564.4 Q290,564.4 290,567.4 L290,569.9 Z" fill="#000" stroke="#000" stroke-width="0" stroke-linecap="butt" stroke-linejoin="miter"/>
<line x1="278" y1="570.0" x2="292" y2="570.0" stroke="#000" stroke-width="1.3" stroke-linecap="butt"/>
<line x1="280.5" y1="573.0" x2="289.5" y2="573.0" stroke="#000" stroke-width="1.2" stroke-linecap="butt"/>
<line x1="283" y1="575.8" x2="287" y2="575.8" stroke="#000" stroke-width="1.1" stroke-linecap="butt"/>
<text x="250.3" y="574.78" font-size="9" font-weight="bold" fill="#000" stroke="#000" stroke-width="0.42" text-anchor="start" textLength="21.6" lengthAdjust="spacingAndGlyphs">G100</text>
<rect x="250.3" y="575.28" width="21.6" height="0.9" fill="#333"/>
<rect x="304.2" y="561" width="77.2" height="13.6" fill="none" stroke="#000" stroke-width="1.6"/>
<text x="309.4" y="571.78" font-size="9" font-weight="bold" fill="#000" stroke="#000" stroke-width="0.42" text-anchor="start" textLength="66.6" lengthAdjust="spacingAndGlyphs">SEE GROUNDS</text>
<line x1="5.5" y1="498.8" x2="135.5" y2="498.8" stroke="#000" stroke-width="2.3" stroke-linecap="square" stroke-dasharray="7.550 5.800"/>
<line x1="135.5" y1="498.8" x2="135.5" y2="555.3" stroke="#000" stroke-width="2.3" stroke-linecap="square" stroke-dasharray="9.200 5.800"/>
<line x1="5.5" y1="555.3" x2="135.5" y2="555.3" stroke="#000" stroke-width="2.3" stroke-linecap="square" stroke-dasharray="7.550 5.800"/>
<line x1="5.5" y1="498.8" x2="5.5" y2="555.3" stroke="#000" stroke-width="2.3" stroke-linecap="square" stroke-dasharray="9.200 5.800"/>
<path d="M29.4,490.7 L26.0,494.5 M33.6,490.7 L37.0,494.5" fill="none" stroke="#000" stroke-width="1.6" stroke-linecap="butt" stroke-linejoin="miter"/>
<path d="M105.10000000000001,490.7 L101.7,494.5 M109.3,490.7 L112.7,494.5" fill="none" stroke="#000" stroke-width="1.6" stroke-linecap="butt" stroke-linejoin="miter"/>
<path d="M37,493.6 L101.5,493.6" fill="none" stroke="#000" stroke-width="1.6" stroke-linecap="butt" stroke-linejoin="miter" stroke-dasharray="6.5 3.5"/>
<text x="0" y="494.38" font-size="9" font-weight="bold" fill="#000" stroke="#000" stroke-width="0.42" text-anchor="start" textLength="21" lengthAdjust="spacingAndGlyphs">C280</text>
<rect x="0" y="494.88" width="21" height="0.9" fill="#333"/>
<path d="M27.5,504.0 L31.5,500.5 L35.5,504.0" fill="none" stroke="#000" stroke-width="1.4" stroke-linecap="butt" stroke-linejoin="miter"/>
<path d="M31.5,500.5 L31.5,506.5" fill="none" stroke="#000" stroke-width="1.3" stroke-linecap="butt" stroke-linejoin="miter"/>
<circle cx="31.5" cy="506.5" r="2.2" fill="#000"/>
<path d="M31.5,506.5 L21,524.4" fill="none" stroke="#000" stroke-width="1.6" stroke-linecap="butt" stroke-linejoin="miter"/>
<circle cx="21" cy="524.4" r="2.6" fill="#000"/>
<circle cx="42" cy="524.4" r="2.6" fill="#000"/>
<path d="M21,524.4 Q31,538 42,524.4" fill="none" stroke="#000" stroke-width="1.7" stroke-linecap="butt" stroke-linejoin="miter" stroke-dasharray="4 2.6"/>
<path d="M42,524.4 L42,536" fill="none" stroke="#000" stroke-width="1.3" stroke-linecap="butt" stroke-linejoin="miter"/>
<path d="M38,541.4 L38,538.4 Q38,535.4 42,535.4 Q46,535.4 46,538.4 L46,541.4 Z" fill="#000" stroke="#000" stroke-width="0" stroke-linecap="butt" stroke-linejoin="miter"/>
<line x1="36" y1="541.4" x2="48" y2="541.4" stroke="#000" stroke-width="1.2" stroke-linecap="butt"/>
<line x1="38" y1="544.4" x2="46" y2="544.4" stroke="#000" stroke-width="1.1" stroke-linecap="butt"/>
<line x1="40" y1="547.4" x2="44" y2="547.4" stroke="#000" stroke-width="1.0" stroke-linecap="butt"/>
<text x="17.5" y="507.29" font-size="6" font-weight="bold" fill="#000" stroke="#000" stroke-width="0.38" text-anchor="start" textLength="6.2" lengthAdjust="spacingAndGlyphs">19</text>
<text x="104" y="507.29" font-size="6" font-weight="bold" fill="#000" stroke="#000" stroke-width="0.38" text-anchor="start" textLength="6" lengthAdjust="spacingAndGlyphs">16</text>
<text x="49.9" y="515.39" font-size="6" font-weight="bold" fill="#000" stroke="#000" stroke-width="0.38" text-anchor="start" textLength="22.7" lengthAdjust="spacingAndGlyphs">BRAKE/</text>
<text x="49.9" y="523.09" font-size="6" font-weight="bold" fill="#000" stroke="#000" stroke-width="0.38" text-anchor="start" textLength="13" lengthAdjust="spacingAndGlyphs">RUN</text>
<text x="49.9" y="530.59" font-size="6" font-weight="bold" fill="#000" stroke="#000" stroke-width="0.38" text-anchor="start" textLength="20" lengthAdjust="spacingAndGlyphs">RELAY</text>
<text x="49.9" y="538.44" font-size="6" font-weight="bold" fill="#000" stroke="#000" stroke-width="0.38" text-anchor="start" textLength="31.5" lengthAdjust="spacingAndGlyphs">CONTROL</text>
<text x="99.75" y="514.29" font-size="6" font-weight="bold" fill="#000" stroke="#000" stroke-width="0.38" text-anchor="start" textLength="16.6" lengthAdjust="spacingAndGlyphs">PARK</text>
<text x="96.25" y="522.34" font-size="6" font-weight="bold" fill="#000" stroke="#000" stroke-width="0.38" text-anchor="start" textLength="21" lengthAdjust="spacingAndGlyphs">SENSE</text>
<text x="139.3" y="505.98" font-size="9" font-weight="bold" fill="#000" stroke="#000" stroke-width="0.42" text-anchor="start" textLength="73.2" lengthAdjust="spacingAndGlyphs">CENTRAL TIMER</text>
<rect x="139.3" y="506.48" width="73.2" height="0.9" fill="#333"/>
<text x="139.3" y="517.53" font-size="9" font-weight="bold" fill="#000" stroke="#000" stroke-width="0.42" text-anchor="start" textLength="71" lengthAdjust="spacingAndGlyphs">MODULE (CTM)/</text>
<rect x="139.3" y="518.03" width="38" height="0.9" fill="#333"/>
<text x="139.3" y="528.48" font-size="9" font-weight="bold" fill="#000" stroke="#000" stroke-width="0.42" text-anchor="start" textLength="41.7" lengthAdjust="spacingAndGlyphs">GENERIC</text>
<rect x="139.3" y="528.98" width="41.7" height="0.9" fill="#333"/>
<text x="139.3" y="540.03" font-size="9" font-weight="bold" fill="#000" stroke="#000" stroke-width="0.42" text-anchor="start" textLength="59" lengthAdjust="spacingAndGlyphs">ELECTRONIC</text>
<rect x="139.3" y="540.53" width="59" height="0.9" fill="#333"/>
<text x="139.3" y="551.28" font-size="9" font-weight="bold" fill="#000" stroke="#000" stroke-width="0.42" text-anchor="start" textLength="68.7" lengthAdjust="spacingAndGlyphs">MODULE (GEM)</text>
<rect x="139.3" y="551.78" width="38" height="0.9" fill="#333"/>
<line x1="387.5" y1="454" x2="597.0" y2="454" stroke="#000" stroke-width="2.3" stroke-linecap="square" stroke-dasharray="7.513 5.800"/>
<line x1="597.0" y1="454" x2="597.0" y2="510.5" stroke="#000" stroke-width="2.3" stroke-linecap="square" stroke-dasharray="9.200 5.800"/>
<line x1="387.5" y1="510.5" x2="597.0" y2="510.5" stroke="#000" stroke-width="2.3" stroke-linecap="square" stroke-dasharray="7.513 5.800"/>
<line x1="387.5" y1="454" x2="387.5" y2="510.5" stroke="#000" stroke-width="2.3" stroke-linecap="square" stroke-dasharray="9.200 5.800"/>
<path d="M420.9,445.9 L417.5,449.7 M425.1,445.9 L428.5,449.7" fill="none" stroke="#000" stroke-width="1.6" stroke-linecap="butt" stroke-linejoin="miter"/>
<path d="M536.6,445.9 L533.2,449.7 M540.8000000000001,445.9 L544.2,449.7" fill="none" stroke="#000" stroke-width="1.6" stroke-linecap="butt" stroke-linejoin="miter"/>
<path d="M429,449.2 L533,449.2" fill="none" stroke="#000" stroke-width="1.6" stroke-linecap="butt" stroke-linejoin="miter" stroke-dasharray="6.5 3.5"/>
<text x="387" y="449.88" font-size="9" font-weight="bold" fill="#000" stroke="#000" stroke-width="0.42" text-anchor="start" textLength="21.7" lengthAdjust="spacingAndGlyphs">C280</text>
<rect x="387" y="450.38" width="21.7" height="0.9" fill="#333"/>
<path d="M419,459.0 L423,455.5 L427,459.0" fill="none" stroke="#000" stroke-width="1.4" stroke-linecap="butt" stroke-linejoin="miter"/>
<path d="M423,455.5 L423,461.8" fill="none" stroke="#000" stroke-width="1.3" stroke-linecap="butt" stroke-linejoin="miter"/>
<circle cx="423" cy="461.8" r="2.2" fill="#000"/>
<path d="M423,461.8 L411.5,479" fill="none" stroke="#000" stroke-width="1.6" stroke-linecap="butt" stroke-linejoin="miter"/>
<circle cx="411.5" cy="479" r="2.6" fill="#000"/>
<circle cx="432.6" cy="478.6" r="2.6" fill="#000"/>
<path d="M411.5,479 Q422.05,492 432.6,478.6" fill="none" stroke="#000" stroke-width="1.7" stroke-linecap="butt" stroke-linejoin="miter" stroke-dasharray="4 2.6"/>
<path d="M432.6,478.6 L432.6,490" fill="none" stroke="#000" stroke-width="1.3" stroke-linecap="butt" stroke-linejoin="miter"/>
<path d="M428.6,495.5 L428.6,492.5 Q428.6,489.5 432.6,489.5 Q436.6,489.5 436.6,492.5 L436.6,495.5 Z" fill="#000" stroke="#000" stroke-width="0" stroke-linecap="butt" stroke-linejoin="miter"/>
<line x1="426.6" y1="495.5" x2="438.6" y2="495.5" stroke="#000" stroke-width="1.2" stroke-linecap="butt"/>
<line x1="428.6" y1="498.5" x2="436.6" y2="498.5" stroke="#000" stroke-width="1.1" stroke-linecap="butt"/>
<line x1="430.6" y1="501.5" x2="434.6" y2="501.5" stroke="#000" stroke-width="1.0" stroke-linecap="butt"/>
<text x="405.6" y="462.44" font-size="6" font-weight="bold" fill="#000" stroke="#000" stroke-width="0.38" text-anchor="start" textLength="7" lengthAdjust="spacingAndGlyphs">18</text>
<path d="M534.7,459.0 L538.7,455.5 L542.7,459.0" fill="none" stroke="#000" stroke-width="1.4" stroke-linecap="butt" stroke-linejoin="miter"/>
<path d="M538.7,455.5 L538.7,461.8" fill="none" stroke="#000" stroke-width="1.3" stroke-linecap="butt" stroke-linejoin="miter"/>
<circle cx="538.7" cy="461.8" r="2.2" fill="#000"/>
<path d="M538.7,461.8 L527.2,479" fill="none" stroke="#000" stroke-width="1.6" stroke-linecap="butt" stroke-linejoin="miter"/>
<circle cx="527.2" cy="479" r="2.6" fill="#000"/>
<circle cx="548" cy="478.6" r="2.6" fill="#000"/>
<path d="M527.2,479 Q537.6,492 548,478.6" fill="none" stroke="#000" stroke-width="1.7" stroke-linecap="butt" stroke-linejoin="miter" stroke-dasharray="4 2.6"/>
<path d="M548,478.6 L548,490" fill="none" stroke="#000" stroke-width="1.3" stroke-linecap="butt" stroke-linejoin="miter"/>
<path d="M544,495.5 L544,492.5 Q544,489.5 548,489.5 Q552,489.5 552,492.5 L552,495.5 Z" fill="#000" stroke="#000" stroke-width="0" stroke-linecap="butt" stroke-linejoin="miter"/>
<line x1="542" y1="495.5" x2="554" y2="495.5" stroke="#000" stroke-width="1.2" stroke-linecap="butt"/>
<line x1="544" y1="498.5" x2="552" y2="498.5" stroke="#000" stroke-width="1.1" stroke-linecap="butt"/>
<line x1="546" y1="501.5" x2="550" y2="501.5" stroke="#000" stroke-width="1.0" stroke-linecap="butt"/>
<text x="520" y="462.44" font-size="6" font-weight="bold" fill="#000" stroke="#000" stroke-width="0.38" text-anchor="start" textLength="7" lengthAdjust="spacingAndGlyphs">24</text>
<text x="440.4" y="470.99" font-size="6" font-weight="bold" fill="#000" stroke="#000" stroke-width="0.38" text-anchor="start" textLength="20" lengthAdjust="spacingAndGlyphs">WIPER</text>
<text x="440.4" y="478.19" font-size="6" font-weight="bold" fill="#000" stroke="#000" stroke-width="0.38" text-anchor="start" textLength="20.5" lengthAdjust="spacingAndGlyphs">SPEED</text>
<text x="440.4" y="485.19" font-size="6" font-weight="bold" fill="#000" stroke="#000" stroke-width="0.38" text-anchor="start" textLength="32" lengthAdjust="spacingAndGlyphs">CONTROL</text>
<text x="555.7" y="470.99" font-size="6" font-weight="bold" fill="#000" stroke="#000" stroke-width="0.38" text-anchor="start" textLength="28" lengthAdjust="spacingAndGlyphs">WASHER</text>
<text x="555.7" y="478.19" font-size="6" font-weight="bold" fill="#000" stroke="#000" stroke-width="0.38" text-anchor="start" textLength="18" lengthAdjust="spacingAndGlyphs">PUMP</text>
<text x="555.7" y="485.19" font-size="6" font-weight="bold" fill="#000" stroke="#000" stroke-width="0.38" text-anchor="start" textLength="31.5" lengthAdjust="spacingAndGlyphs">CONTROL</text>
<text x="601.75" y="458.48" font-size="9" font-weight="bold" fill="#000" stroke="#000" stroke-width="0.42" text-anchor="start" textLength="72.8" lengthAdjust="spacingAndGlyphs">CENTRAL TIMER</text>
<rect x="601.75" y="458.98" width="72.8" height="0.9" fill="#333"/>
<text x="601.75" y="470.03" font-size="9" font-weight="bold" fill="#000" stroke="#000" stroke-width="0.42" text-anchor="start" textLength="71.2" lengthAdjust="spacingAndGlyphs">MODULE (CTM)/</text>
<rect x="601.75" y="470.53" width="38" height="0.9" fill="#333"/>
<text x="601.75" y="481.58" font-size="9" font-weight="bold" fill="#000" stroke="#000" stroke-width="0.42" text-anchor="start" textLength="41.3" lengthAdjust="spacingAndGlyphs">GENERIC</text>
<text x="601.75" y="492.78" font-size="9" font-weight="bold" fill="#000" stroke="#000" stroke-width="0.42" text-anchor="start" textLength="59" lengthAdjust="spacingAndGlyphs">ELECTRONIC</text>
<rect x="601.75" y="493.28" width="59" height="0.9" fill="#333"/>
<text x="601.75" y="503.78" font-size="9" font-weight="bold" fill="#000" stroke="#000" stroke-width="0.42" text-anchor="start" textLength="68.2" lengthAdjust="spacingAndGlyphs">MODULE (GEM)</text>
<rect x="601.75" y="504.28" width="38" height="0.9" fill="#333"/>
<rect x="607" y="1" width="105" height="21" fill="#000"/>
<text x="613" y="14.77" font-size="7.6" font-weight="bold" fill="#fff" stroke="#fff" stroke-width="0.1" text-anchor="start" textLength="90" lengthAdjust="spacingAndGlyphs">HOT IN ACC OR RUN</text>
<line x1="619" y1="29" x2="662" y2="29" stroke="#000" stroke-width="2.5" stroke-linecap="square" stroke-dasharray="5.625 6.000"/>
<line x1="662" y1="29" x2="662" y2="69.5" stroke="#000" stroke-width="2.5" stroke-linecap="square" stroke-dasharray="5.000 6.000"/>
<line x1="619" y1="69.5" x2="662" y2="69.5" stroke="#000" stroke-width="2.5" stroke-linecap="square" stroke-dasharray="5.625 6.000"/>
<line x1="619" y1="29" x2="619" y2="69.5" stroke="#000" stroke-width="2.5" stroke-linecap="square" stroke-dasharray="5.000 6.000"/>
<path d="M630.5,29 L630.5,39" fill="none" stroke="#000" stroke-width="1.2" stroke-linecap="butt" stroke-linejoin="miter"/>
<ellipse cx="630.6" cy="39.8" rx="2.3" ry="2.1" fill="#000"/>
<path d="M630.6,40.5 C634,41.5 635.5,44.5 633.5,48 C631.5,50.5 628,52.5 628.8,55.5 C629.3,58 631,59 631,60" fill="none" stroke="#000" stroke-width="2.0" stroke-linecap="butt" stroke-linejoin="miter"/>
<ellipse cx="631" cy="60.3" rx="2.3" ry="2.1" fill="#000"/>
<path d="M631,60.5 L631,69.5" fill="none" stroke="#000" stroke-width="1.2" stroke-linecap="butt" stroke-linejoin="miter"/>
<text x="640" y="37.60" font-size="5.5" font-weight="bold" fill="#000" stroke="#000" stroke-width="0.38" text-anchor="start" textLength="6.5" lengthAdjust="spacingAndGlyphs">12</text>
<text x="640" y="60.00" font-size="5.5" font-weight="bold" fill="#000" stroke="#000" stroke-width="0.38" text-anchor="start" textLength="14" lengthAdjust="spacingAndGlyphs">7.5A</text>
<text x="640.5" y="67.00" font-size="5.5" font-weight="bold" fill="#000" stroke="#000" stroke-width="0.38" text-anchor="start" textLength="13.5" lengthAdjust="spacingAndGlyphs">MINI</text>
<text x="665.6" y="35.28" font-size="9" font-weight="bold" fill="#000" stroke="#000" stroke-width="0.42" text-anchor="start" textLength="11" lengthAdjust="spacingAndGlyphs">I/P</text>
<rect x="665.6" y="35.78" width="11" height="0.9" fill="#333"/>
<text x="665.6" y="46.28" font-size="9" font-weight="bold" fill="#000" stroke="#000" stroke-width="0.42" text-anchor="start" textLength="23.4" lengthAdjust="spacingAndGlyphs">FUSE</text>
<rect x="665.6" y="46.78" width="23.4" height="0.9" fill="#333"/>
<text x="665.6" y="57.68" font-size="9" font-weight="bold" fill="#000" stroke="#000" stroke-width="0.42" text-anchor="start" textLength="29.4" lengthAdjust="spacingAndGlyphs">PANEL</text>
<rect x="665.6" y="58.18" width="29.4" height="0.9" fill="#333"/>
<polyline points="631,70 631,96.5" fill="none" stroke="#000" stroke-width="5" stroke-linejoin="miter" stroke-linecap="butt"/>
<path d="M630.20,73.00 L631.80,78.00 M630.20,82.00 L631.80,87.00" stroke="#fff" stroke-width="1.3" fill="none"/>
<polyline points="631,100 631,219" fill="none" stroke="#000" stroke-width="4.6" stroke-linejoin="miter" stroke-linecap="butt"/>
<path d="M630.20,103.00 L631.80,108.00 M630.20,111.90 L631.80,116.90 M630.20,120.80 L631.80,125.80 M630.20,129.70 L631.80,134.70 M630.20,138.60 L631.80,143.60 M630.20,147.50 L631.80,152.50 M630.20,156.40 L631.80,161.40 M630.20,165.30 L631.80,170.30 M630.20,174.20 L631.80,179.20 M630.20,183.10 L631.80,188.10 M630.20,192.00 L631.80,197.00 M630.20,200.90 L631.80,205.90 M630.20,209.80 L631.80,214.80" stroke="#fff" stroke-width="1.3" fill="none"/>
<path d="M631,219 L631,230" fill="none" stroke="#000" stroke-width="1.2" stroke-linecap="butt" stroke-linejoin="miter"/>
<path d="M625.8,99.0 Q630.8,92.0 635.8,99.0" fill="none" stroke="#000" stroke-width="1.8" stroke-linecap="butt" stroke-linejoin="miter"/>
<path d="M626.1999999999999,103.3 L630.8,99.5 L635.4,103.3" fill="none" stroke="#000" stroke-width="1.8" stroke-linecap="butt" stroke-linejoin="miter"/>
<text x="608" y="85.68" font-size="9" font-weight="bold" fill="#000" stroke="#000" stroke-width="0.42" text-anchor="start" textLength="15" lengthAdjust="spacingAndGlyphs">950</text>
<text x="640" y="85.68" font-size="9" font-weight="bold" fill="#000" stroke="#000" stroke-width="0.42" text-anchor="start" textLength="23" lengthAdjust="spacingAndGlyphs">W/BK</text>
<text x="593" y="98.28" font-size="9" font-weight="bold" fill="#000" stroke="#000" stroke-width="0.42" text-anchor="start" textLength="28" lengthAdjust="spacingAndGlyphs">C147F</text>
<rect x="593" y="98.78" width="28" height="0.9" fill="#333"/>
<text x="593" y="110.28" font-size="9" font-weight="bold" fill="#000" stroke="#000" stroke-width="0.42" text-anchor="start" textLength="28" lengthAdjust="spacingAndGlyphs">C147M</text>
<rect x="593" y="110.78" width="28" height="0.9" fill="#333"/>
<text x="608.4" y="130.88" font-size="9" font-weight="bold" fill="#000" stroke="#000" stroke-width="0.42" text-anchor="start" textLength="15.2" lengthAdjust="spacingAndGlyphs">950</text>
<text x="640" y="130.88" font-size="9" font-weight="bold" fill="#000" stroke="#000" stroke-width="0.42" text-anchor="start" textLength="23" lengthAdjust="spacingAndGlyphs">W/BK</text>
<rect x="712.9" y="94.9" width="76.4" height="27" fill="none" stroke="#000" stroke-width="1.5"/>
<text x="718.7" y="106.48" font-size="9" font-weight="bold" fill="#000" stroke="#000" stroke-width="0.42" text-anchor="start" textLength="54.1" lengthAdjust="spacingAndGlyphs">SEE POWER</text>
<text x="718.7" y="116.08" font-size="9" font-weight="bold" fill="#000" stroke="#000" stroke-width="0.42" text-anchor="start" textLength="64.6" lengthAdjust="spacingAndGlyphs">DISTRIBUTION</text>
<text x="674" y="150.28" font-size="9" font-weight="bold" fill="#000" stroke="#000" stroke-width="0.42" text-anchor="start" textLength="47" lengthAdjust="spacingAndGlyphs">AUXILIARY</text>
<rect x="674" y="150.78" width="47" height="0.9" fill="#333"/>
<text x="674" y="161.48" font-size="9" font-weight="bold" fill="#000" stroke="#000" stroke-width="0.42" text-anchor="start" textLength="28.5" lengthAdjust="spacingAndGlyphs">RELAY</text>
<rect x="674" y="161.98" width="28.5" height="0.9" fill="#333"/>
<text x="674" y="172.88" font-size="9" font-weight="bold" fill="#000" stroke="#000" stroke-width="0.42" text-anchor="start" textLength="32" lengthAdjust="spacingAndGlyphs">BOX #1</text>
<rect x="674" y="173.38" width="32" height="0.9" fill="#333"/>
<line x1="514.3" y1="179.2" x2="732.0" y2="179.2" stroke="#000" stroke-width="2.5" stroke-linecap="square" stroke-dasharray="7.825 6.000"/>
<line x1="732.0" y1="179.2" x2="732.0" y2="280.4" stroke="#000" stroke-width="2.5" stroke-linecap="square" stroke-dasharray="7.087 6.000"/>
<line x1="514.3" y1="280.4" x2="732.0" y2="280.4" stroke="#000" stroke-width="2.5" stroke-linecap="square" stroke-dasharray="7.825 6.000"/>
<line x1="514.3" y1="179.2" x2="514.3" y2="280.4" stroke="#000" stroke-width="2.5" stroke-linecap="square" stroke-dasharray="7.087 6.000"/>
<polyline points="630.5,217 615,195.8 538,195.8 538,219" fill="none" stroke="#000" stroke-width="4.4" stroke-linejoin="miter" stroke-linecap="butt"/>
<path d="M628.78,213.30 L624.54,210.21 M622.88,205.23 L618.64,202.13 M613.00,195.00 L608.00,196.60 M603.00,195.00 L598.00,196.60 M593.00,195.00 L588.00,196.60 M583.00,195.00 L578.00,196.60 M573.00,195.00 L568.00,196.60 M563.00,195.00 L558.00,196.60 M553.00,195.00 L548.00,196.60 M537.20,197.80 L538.80,202.80 M537.20,207.80 L538.80,212.80" stroke="#fff" stroke-width="1.3" fill="none"/>
<text x="561.6" y="191.28" font-size="9" font-weight="bold" fill="#000" stroke="#000" stroke-width="0.42" text-anchor="start" textLength="15.4" lengthAdjust="spacingAndGlyphs">950</text>
<text x="561.6" y="207.48" font-size="9" font-weight="bold" fill="#000" stroke="#000" stroke-width="0.42" text-anchor="start" textLength="24" lengthAdjust="spacingAndGlyphs">W/BK</text>
<text x="544" y="214.90" font-size="6.3" font-weight="bold" fill="#000" stroke="#000" stroke-width="0.38" text-anchor="start" textLength="61" lengthAdjust="spacingAndGlyphs">12V (ACC OR RUN)</text>
<rect x="527" y="219.1" width="148.3" height="36.3" fill="none" stroke="#000" stroke-width="2.2"/>
<path d="M538.3,221 L538.3,228.7 Q535.0999999999999,230.77499999999998 538.3,232.85 Q535.0999999999999,234.925 538.3,237.0 Q535.0999999999999,239.075 538.3,241.15 Q535.0999999999999,243.22500000000002 538.3,245.3 L538.3,254" fill="none" stroke="#000" stroke-width="1.6" stroke-linecap="butt" stroke-linejoin="miter"/>
<path d="M541,237.4 L643,237.4" fill="none" stroke="#000" stroke-width="1.7" stroke-linecap="butt" stroke-linejoin="miter" stroke-dasharray="8 4"/>
<circle cx="631" cy="230" r="2.6" fill="#000"/>
<path d="M631,229.8 C633,222 645,219 651,227" fill="none" stroke="#000" stroke-width="1.5" stroke-linecap="butt" stroke-linejoin="miter"/>
<circle cx="652" cy="228.5" r="2.3" fill="#000"/>
<path d="M652,229 L649.4,235 L641,247.5" fill="none" stroke="#000" stroke-width="1.6" stroke-linecap="butt" stroke-linejoin="miter"/>
<circle cx="649.4" cy="235" r="1.8" fill="#000"/>
<circle cx="640.8" cy="247.3" r="2.6" fill="#000"/>
<text x="621" y="227.79" font-size="6" font-weight="bold" fill="#000" stroke="#000" stroke-width="0.38" text-anchor="start" textLength="4" lengthAdjust="spacingAndGlyphs">5</text>
<text x="661.4" y="227.79" font-size="6" font-weight="bold" fill="#000" stroke="#000" stroke-width="0.38" text-anchor="start" textLength="4" lengthAdjust="spacingAndGlyphs">4</text>
<text x="544" y="252.19" font-size="6" font-weight="bold" fill="#000" stroke="#000" stroke-width="0.38" text-anchor="start" textLength="4" lengthAdjust="spacingAndGlyphs">2</text>
<text x="633" y="251.59" font-size="6" font-weight="bold" fill="#000" stroke="#000" stroke-width="0.38" text-anchor="start" textLength="4" lengthAdjust="spacingAndGlyphs">3</text>
<text x="544.5" y="228.00" font-size="5.5" font-weight="bold" fill="#555" stroke="#555" stroke-width="0.38" text-anchor="start" textLength="3" lengthAdjust="spacingAndGlyphs">1</text>
<polyline points="652,225 652,195.3 784.7,195.3 784.7,262" fill="none" stroke="#000" stroke-width="4.6" stroke-linejoin="miter" stroke-linecap="butt"/>
<polyline points="784.4,270 784.4,325" fill="none" stroke="#000" stroke-width="4.8" stroke-linejoin="miter" stroke-linecap="butt" stroke-dasharray="17.5 2"/>
<circle cx="784.4" cy="264.6" r="6.2" fill="#fff"/>
<circle cx="784.4" cy="264.6" r="3.8" fill="#000"/>
<text x="746" y="190.28" font-size="9" font-weight="bold" fill="#000" stroke="#000" stroke-width="0.42" text-anchor="start" textLength="10" lengthAdjust="spacingAndGlyphs">57</text>
<text x="746" y="206.28" font-size="9" font-weight="bold" fill="#000" stroke="#000" stroke-width="0.42" text-anchor="start" textLength="12" lengthAdjust="spacingAndGlyphs">BK</text>
<text x="659.6" y="208.48" font-size="6.8" font-weight="bold" fill="#000" stroke="#000" stroke-width="0.4" text-anchor="start" textLength="30.4" lengthAdjust="spacingAndGlyphs">12V (ACC</text>
<text x="659.6" y="215.88" font-size="6.8" font-weight="bold" fill="#000" stroke="#000" stroke-width="0.4" text-anchor="start" textLength="28.5" lengthAdjust="spacingAndGlyphs">OR RUN)</text>
<text x="681" y="226.28" font-size="9" font-weight="bold" fill="#000" stroke="#000" stroke-width="0.42" text-anchor="start" textLength="30" lengthAdjust="spacingAndGlyphs">FRONT</text>
<rect x="681" y="226.78" width="30" height="0.9" fill="#333"/>
<text x="681" y="237.28" font-size="9" font-weight="bold" fill="#000" stroke="#000" stroke-width="0.42" text-anchor="start" textLength="38.5" lengthAdjust="spacingAndGlyphs">WASHER</text>
<rect x="681" y="237.78" width="38.5" height="0.9" fill="#333"/>
<text x="681" y="248.68" font-size="9" font-weight="bold" fill="#000" stroke="#000" stroke-width="0.42" text-anchor="start" textLength="26" lengthAdjust="spacingAndGlyphs">PUMP</text>
<rect x="681" y="249.18" width="26" height="0.9" fill="#333"/>
<text x="681" y="259.88" font-size="9" font-weight="bold" fill="#000" stroke="#000" stroke-width="0.42" text-anchor="start" textLength="28.5" lengthAdjust="spacingAndGlyphs">RELAY</text>
<rect x="681" y="260.38" width="28.5" height="0.9" fill="#333"/>
<text x="754.9" y="269.08" font-size="9" font-weight="bold" fill="#000" stroke="#000" stroke-width="0.42" text-anchor="start" textLength="20.8" lengthAdjust="spacingAndGlyphs">S161</text>
<rect x="754.9" y="269.58" width="20.8" height="0.9" fill="#333"/>
<text x="766.5" y="284.58" font-size="9" font-weight="bold" fill="#000" stroke="#000" stroke-width="0.42" text-anchor="start" textLength="9.2" lengthAdjust="spacingAndGlyphs">57</text>
<text x="792" y="284.58" font-size="9" font-weight="bold" fill="#000" stroke="#000" stroke-width="0.42" text-anchor="start" textLength="12" lengthAdjust="spacingAndGlyphs">BK</text>
<rect x="708" y="299.3" width="58.3" height="24.3" fill="none" stroke="#000" stroke-width="1.5"/>
<text x="713" y="310.08" font-size="9" font-weight="bold" fill="#000" stroke="#000" stroke-width="0.42" text-anchor="start" textLength="17" lengthAdjust="spacingAndGlyphs">SEE</text>
<text x="713" y="319.68" font-size="9" font-weight="bold" fill="#000" stroke="#000" stroke-width="0.42" text-anchor="start" textLength="45.7" lengthAdjust="spacingAndGlyphs">GROUNDS</text>
<path d="M779.4,330.8 L779.4,328.3 Q779.4,325.3 784.4,325.3 Q789.4,325.3 789.4,328.3 L789.4,330.8 Z" fill="#000" stroke="#000" stroke-width="0" stroke-linecap="butt" stroke-linejoin="miter"/>
<line x1="777.4" y1="330.90000000000003" x2="791.4" y2="330.90000000000003" stroke="#000" stroke-width="1.3" stroke-linecap="butt"/>
<line x1="779.9" y1="333.90000000000003" x2="788.9" y2="333.90000000000003" stroke="#000" stroke-width="1.2" stroke-linecap="butt"/>
<line x1="782.4" y1="336.7" x2="786.4" y2="336.7" stroke="#000" stroke-width="1.1" stroke-linecap="butt"/>
<text x="749.8" y="335.58" font-size="9" font-weight="bold" fill="#000" stroke="#000" stroke-width="0.42" text-anchor="start" textLength="22.1" lengthAdjust="spacingAndGlyphs">G102</text>
<rect x="749.8" y="336.08" width="22.1" height="0.9" fill="#333"/>
<polyline points="641.7,247 641.7,315.2" fill="none" stroke="#000" stroke-width="4.4" stroke-linejoin="miter" stroke-linecap="butt"/>
<path d="M639.6,314.59999999999997 L636.2,318.4 M643.8000000000001,314.59999999999997 L647.2,318.4" fill="none" stroke="#000" stroke-width="1.6" stroke-linecap="butt" stroke-linejoin="miter"/>
<text x="623.2" y="299.28" font-size="9" font-weight="bold" fill="#000" stroke="#000" stroke-width="0.42" text-anchor="start" textLength="14.4" lengthAdjust="spacingAndGlyphs">488</text>
<text x="650.3" y="299.28" font-size="9" font-weight="bold" fill="#000" stroke="#000" stroke-width="0.42" text-anchor="start" textLength="12.4" lengthAdjust="spacingAndGlyphs">DG</text>
<text x="610" y="316.68" font-size="9" font-weight="bold" fill="#000" stroke="#000" stroke-width="0.42" text-anchor="start" textLength="22" lengthAdjust="spacingAndGlyphs">C139</text>
<rect x="610" y="317.18" width="22" height="0.9" fill="#333"/>
<rect x="627.3" y="321.9" width="29" height="36.2" fill="none" stroke="#000" stroke-width="2.2"/>
<path d="M637.1,327.3 L640.5,324.5 L643.9,327.3" fill="none" stroke="#000" stroke-width="1.1" stroke-linecap="butt" stroke-linejoin="miter"/>
<path d="M640.5,324.5 L640.5,328.5" fill="none" stroke="#000" stroke-width="1.0" stroke-linecap="butt" stroke-linejoin="miter"/>
<rect x="636.8" y="327.8" width="7.4" height="3.4" rx="1.6" fill="#fff" stroke="#000" stroke-width="1.2"/>
<circle cx="640.5" cy="339.5" r="8.6" fill="url(#stipL)" stroke="#000" stroke-width="1.5"/>
<text x="640.5" y="341.52" font-size="5" font-weight="bold" fill="#000" stroke="#000" stroke-width="0.38" text-anchor="middle" textLength="4.5" lengthAdjust="spacingAndGlyphs">M</text>
<rect x="636.8" y="347.8" width="7.4" height="3.4" rx="1.6" fill="#fff" stroke="#000" stroke-width="1.2"/>
<path d="M640.5,351.2 L640.5,355" fill="none" stroke="#000" stroke-width="1.0" stroke-linecap="butt" stroke-linejoin="miter"/>
<path d="M637.1,352.7 L640.5,355.5 L643.9,352.7" fill="none" stroke="#000" stroke-width="1.1" stroke-linecap="butt" stroke-linejoin="miter"/>
<path d="M639.9,365.6 L637,361.8 M644.1,365.6 L647,361.8" fill="none" stroke="#000" stroke-width="1.6" stroke-linecap="butt" stroke-linejoin="miter"/>
<polyline points="642,365 642,399" fill="none" stroke="#000" stroke-width="4.3" stroke-linejoin="miter" stroke-linecap="butt"/>
<path d="M641.20,368.00 L642.80,374.00 M641.20,380.00 L642.80,386.00 M641.20,392.00 L642.80,398.00" stroke="#fff" stroke-width="1.3" fill="none"/>
<polygon points="636.8,398.5 647.6,398.5 642.2,409.6" fill="#000"/>
<text x="659.3" y="329.08" font-size="9" font-weight="bold" fill="#000" stroke="#000" stroke-width="0.42" text-anchor="start" textLength="39.7" lengthAdjust="spacingAndGlyphs">WASHER</text>
<rect x="659.3" y="329.58" width="39.7" height="0.9" fill="#333"/>
<text x="659.6" y="340.68" font-size="9" font-weight="bold" fill="#000" stroke="#000" stroke-width="0.42" text-anchor="start" textLength="25.4" lengthAdjust="spacingAndGlyphs">PUMP</text>
<text x="659.6" y="351.48" font-size="9" font-weight="bold" fill="#000" stroke="#000" stroke-width="0.42" text-anchor="start" textLength="33.2" lengthAdjust="spacingAndGlyphs">MOTOR</text>
<text x="610" y="369.28" font-size="9" font-weight="bold" fill="#000" stroke="#000" stroke-width="0.42" text-anchor="start" textLength="22" lengthAdjust="spacingAndGlyphs">C139</text>
<text x="649.5" y="371.10" font-size="5.5" font-weight="bold" fill="#000" stroke="#000" stroke-width="0.38" text-anchor="start" textLength="7.8" lengthAdjust="spacingAndGlyphs">0V</text>
<text x="619.4" y="397.18" font-size="9" font-weight="bold" fill="#000" stroke="#000" stroke-width="0.42" text-anchor="start" textLength="13.1" lengthAdjust="spacingAndGlyphs">941</text>
<text x="651" y="397.18" font-size="9" font-weight="bold" fill="#000" stroke="#000" stroke-width="0.42" text-anchor="start" textLength="22.5" lengthAdjust="spacingAndGlyphs">BK/W</text>
<text x="615" y="420.88" font-size="9" font-weight="bold" fill="#000" stroke="#000" stroke-width="0.42" text-anchor="start" textLength="117" lengthAdjust="spacingAndGlyphs">LIFTGATE WIPER/WASHER</text>
<rect x="0" y="578.5" width="800" height="4" fill="#f3f3f3"/>
</svg>
</body></html>
